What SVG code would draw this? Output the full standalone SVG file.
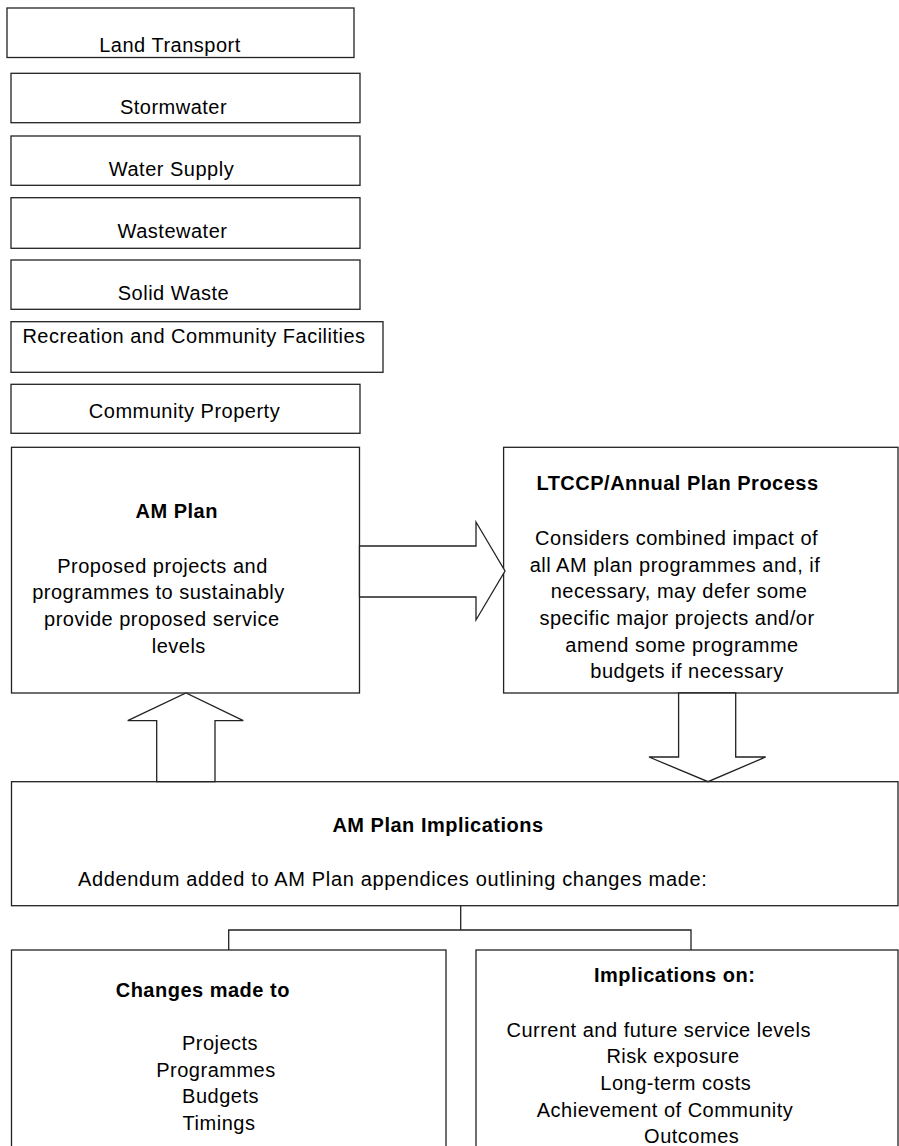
<svg xmlns="http://www.w3.org/2000/svg" width="899" height="1146" viewBox="0 0 899 1146">
<style>
.box{fill:#fff;stroke:#222;stroke-width:1.3}
.arr{fill:#fff;stroke:#222;stroke-width:1.3;stroke-linejoin:miter}
.ln{fill:none;stroke:#222;stroke-width:1.3}
text{font-family:"Liberation Sans",Arial,sans-serif;font-size:20px;letter-spacing:0.5px;fill:#000}
.c{text-anchor:middle}
.b{font-weight:bold}
</style>
<rect width="899" height="1146" fill="#fff"/>
<g id="land-transport"><rect class="box" x="7" y="8" width="347" height="49.5"/><text class="c" x="170" y="51.5">Land Transport</text></g>
<g id="stormwater"><rect class="box" x="11" y="73.3" width="349" height="49.4"/><text class="c" x="173.5" y="114.3">Stormwater</text></g>
<g id="water-supply"><rect class="box" x="11" y="136" width="349" height="49.3"/><text class="c" x="171.5" y="176">Water Supply</text></g>
<g id="wastewater"><rect class="box" x="11" y="197.7" width="349" height="50.6"/><text class="c" x="172.5" y="238.3">Wastewater</text></g>
<g id="solid-waste"><rect class="box" x="11" y="260" width="349" height="49.3"/><text class="c" x="173.5" y="300">Solid Waste</text></g>
<g id="recreation"><rect class="box" x="11" y="321.7" width="372" height="50.6"/><text class="c" x="194" y="343.3">Recreation and Community Facilities</text></g>
<g id="community-property"><rect class="box" x="11" y="384.3" width="349" height="49"/><text class="c" x="184.5" y="418.3">Community Property</text></g>
<g id="am-plan"><rect class="box" x="11.5" y="447.3" width="348" height="245.7"/>
<text class="c b" x="176.7" y="518">AM Plan</text>
<text class="c" x="162.5" y="572.7">Proposed projects and</text>
<text class="c" x="158.5" y="599.3">programmes to sustainably</text>
<text class="c" x="161.8" y="626">provide proposed service</text>
<text class="c" x="178.8" y="652.7">levels</text></g>
<g id="ltccp"><rect class="box" x="503.6" y="447.3" width="394.4" height="245.7"/>
<text class="c b" x="677.5" y="490">LTCCP/Annual Plan Process</text>
<text class="c" x="676.6" y="545">Considers combined impact of</text>
<text class="c" x="675" y="571.7">all AM plan programmes and, if</text>
<text class="c" x="679" y="598">necessary, may defer some</text>
<text class="c" x="677" y="625">specific major projects and/or</text>
<text class="c" x="682" y="651.7">amend some programme</text>
<text class="c" x="687" y="678">budgets if necessary</text></g>
<g id="am-plan-implications"><rect class="box" x="11.5" y="781.7" width="886.5" height="124"/>
<text class="c b" x="438" y="831.5">AM Plan Implications</text>
<text x="78" y="885.5" style="letter-spacing:0.65px">Addendum added to AM Plan appendices outlining changes made:</text></g>
<g id="changes-made"><rect class="box" x="11.5" y="950" width="434.5" height="220"/>
<text class="c b" x="202.8" y="996.7">Changes made to</text>
<text class="c" x="220" y="1050">Projects</text>
<text class="c" x="216" y="1076.7">Programmes</text>
<text class="c" x="220.5" y="1103.3">Budgets</text>
<text class="c" x="219" y="1130">Timings</text></g>
<g id="implications-on"><rect class="box" x="476" y="950" width="422" height="220"/>
<text class="c b" x="674.7" y="981.7">Implications on:</text>
<text class="c" x="658.7" y="1036.7">Current and future service levels</text>
<text class="c" x="673" y="1063.3">Risk exposure</text>
<text class="c" x="675.8" y="1090">Long-term costs</text>
<text class="c" x="665" y="1116.7">Achievement of Community</text>
<text class="c" x="691.7" y="1143">Outcomes</text></g>
<g id="connectors">
<polygon class="arr" points="359.5,546 476,546 476,522 505,571 476,620 476,597 359.5,597"/>
<polygon class="arr" points="156.7,781.7 156.7,720.7 127.7,720.7 186,693 243.3,720.7 215,720.7 215,781.7"/>
<polygon class="arr" points="678.6,693 678.6,757 649,757 708,781.7 765.7,757 735.7,757 735.7,693"/>
<polyline class="ln" points="460.7,905.7 460.7,930"/>
<polyline class="ln" points="228.7,950 228.7,930 691,930 691,950"/>
</g>
</svg>
